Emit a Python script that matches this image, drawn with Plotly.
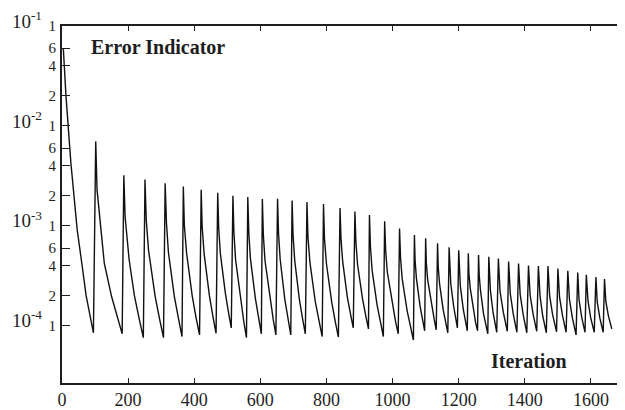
import plotly.graph_objects as go

# ---- data ----
iteration = [
    4, 12, 27, 46, 60, 73, 95,
    102, 106, 113, 128, 150, 167, 182,
    187, 191, 203, 219, 234, 246,
    251, 255, 262, 282, 296, 307,
    312, 316, 322, 340, 353, 363,
    367, 370, 377, 394, 406, 416,
    421, 424, 430, 446, 457, 466,
    471, 474, 479, 494, 504, 512,
    517, 520, 525, 540, 550, 558,
    562, 565, 570, 585, 595, 603,
    606, 609, 614, 629, 639, 647,
    652, 655, 660, 674, 684, 692,
    696, 699, 704, 718, 728, 736,
    741, 744, 750, 766, 778, 787,
    791, 794, 800, 816, 827, 836,
    841, 844, 849, 863, 873, 881,
    886, 889, 894, 909, 919, 927,
    930, 933, 938, 953, 964, 972,
    976, 979, 984, 999, 1009, 1017,
    1021, 1024, 1029, 1044, 1055, 1063,
    1066, 1068, 1072, 1083, 1091, 1097,
    1100, 1102, 1106, 1118, 1126, 1132,
    1136, 1138, 1142, 1153, 1161, 1167,
    1171, 1173, 1176, 1185, 1191, 1196,
    1200, 1202, 1205, 1214, 1221, 1226,
    1229, 1231, 1235, 1244, 1251, 1257,
    1260, 1262, 1266, 1275, 1282, 1288,
    1291, 1293, 1296, 1304, 1310, 1315,
    1320, 1322, 1325, 1335, 1342, 1347,
    1351, 1353, 1356, 1365, 1371, 1376,
    1381, 1383, 1386, 1395, 1401, 1406,
    1411, 1413, 1416, 1425, 1431, 1436,
    1441, 1443, 1446, 1454, 1460, 1465,
    1470, 1472, 1475, 1484, 1491, 1496,
    1500, 1502, 1505, 1514, 1520, 1525,
    1530, 1532, 1535, 1544, 1550, 1555,
    1560, 1562, 1564, 1572, 1578, 1582,
    1586, 1588, 1591, 1599, 1605, 1610,
    1615, 1617, 1619, 1627, 1633, 1637,
    1641, 1643, 1645, 1653, 1659, 1663,
]

error_indicator = [
    6.0e-2, 2.0e-2, 4.2e-3, 9.1e-4, 4.2e-4, 2.0e-4, 8.5e-5,
    7.0e-3, 2.3e-3, 1.34e-3, 4.2e-4, 1.96e-4, 1.2e-4, 8.3e-5,
    3.2e-3, 1.22e-3, 4.6e-4, 2.0e-4, 1.15e-4, 7.6e-5,
    2.9e-3, 1.12e-3, 5.6e-4, 1.95e-4, 1.13e-4, 7.6e-5,
    2.67e-3, 1.06e-3, 5.4e-4, 1.95e-4, 1.15e-4, 7.8e-5,
    2.47e-3, 1.02e-3, 5.3e-4, 1.98e-4, 1.18e-4, 8.1e-5,
    2.29e-3, 9.7e-4, 5.2e-4, 1.99e-4, 1.21e-4, 8.4e-5,
    2.14e-3, 9.5e-4, 5.3e-4, 2.13e-4, 1.34e-4, 9.5e-5,
    2.0e-3, 8.6e-4, 4.6e-4, 1.78e-4, 1.09e-4, 7.6e-5,
    1.94e-3, 8.5e-4, 4.7e-4, 1.87e-4, 1.17e-4, 8.3e-5,
    1.86e-3, 8.2e-4, 4.5e-4, 1.84e-4, 1.15e-4, 8.1e-5,
    1.87e-3, 8.3e-4, 4.6e-4, 1.84e-4, 1.15e-4, 8.1e-5,
    1.79e-3, 8.0e-4, 4.5e-4, 1.84e-4, 1.16e-4, 8.3e-5,
    1.73e-3, 7.7e-4, 4.3e-4, 1.75e-4, 1.1e-4, 7.8e-5,
    1.65e-3, 7.4e-4, 4.15e-4, 1.71e-4, 1.08e-4, 7.7e-5,
    1.51e-3, 7.4e-4, 4.4e-4, 1.95e-4, 1.29e-4, 9.5e-5,
    1.39e-3, 6.9e-4, 4.1e-4, 1.87e-4, 1.25e-4, 9.3e-5,
    1.28e-3, 6.2e-4, 3.6e-4, 1.62e-4, 1.06e-4, 7.8e-5,
    1.11e-3, 5.7e-4, 3.45e-4, 1.63e-4, 1.1e-4, 8.3e-5,
    9.4e-4, 4.8e-4, 2.96e-4, 1.41e-4, 9.6e-5, 7.2e-5,
    8.1e-4, 4.55e-4, 3.0e-4, 1.58e-4, 1.14e-4, 8.9e-5,
    7.5e-4, 4.3e-4, 2.9e-4, 1.57e-4, 1.15e-4, 9.1e-5,
    6.7e-4, 3.9e-4, 2.64e-4, 1.45e-4, 1.06e-4, 8.5e-5,
    6.1e-4, 3.74e-4, 2.63e-4, 1.54e-4, 1.16e-4, 9.5e-5,
    5.7e-4, 3.5e-4, 2.48e-4, 1.45e-4, 1.09e-4, 8.9e-5,
    5.3e-4, 3.3e-4, 2.37e-4, 1.42e-4, 1.08e-4, 8.9e-5,
    5.1e-4, 3.2e-4, 2.24e-4, 1.32e-4, 1.01e-4, 8.3e-5,
    4.9e-4, 3.1e-4, 2.23e-4, 1.35e-4, 1.04e-4, 8.6e-5,
    4.7e-4, 3.03e-4, 2.2e-4, 1.36e-4, 1.05e-4, 8.8e-5,
    4.4e-4, 2.86e-4, 2.1e-4, 1.31e-4, 1.03e-4, 8.6e-5,
    4.2e-4, 2.79e-4, 2.05e-4, 1.29e-4, 1.01e-4, 8.5e-5,
    4.0e-4, 2.72e-4, 2.03e-4, 1.31e-4, 1.04e-4, 8.8e-5,
    3.95e-4, 2.66e-4, 1.98e-4, 1.26e-4, 1.0e-4, 8.5e-5,
    3.95e-4, 2.67e-4, 2.0e-4, 1.29e-4, 1.03e-4, 8.7e-5,
    3.74e-4, 2.55e-4, 1.93e-4, 1.26e-4, 1.01e-4, 8.6e-5,
    3.55e-4, 2.42e-4, 1.83e-4, 1.19e-4, 9.5e-5, 8.1e-5,
    3.4e-4, 2.37e-4, 1.82e-4, 1.22e-4, 1.0e-4, 8.6e-5,
    3.24e-4, 2.29e-4, 1.78e-4, 1.21e-4, 9.9e-5, 8.6e-5,
    3.07e-4, 2.2e-4, 1.73e-4, 1.19e-4, 9.9e-5, 8.6e-5,
    2.93e-4, 2.17e-4, 1.75e-4, 1.25e-4, 1.05e-4, 9.3e-5,
]

x_tick_vals = [0, 200, 400, 600, 800, 1000, 1200, 1400, 1600]
x_tick_text = ["0", "200", "400", "600", "800", "1000", "1200", "1400", "1600"]

y_minor_vals = [1e-4, 2e-4, 4e-4, 6e-4,
                1e-3, 2e-3, 4e-3, 6e-3,
                1e-2, 2e-2, 4e-2, 6e-2, 1e-1]
y_minor_text = ["1", "2", "4", "6",
                "1", "2", "4", "6",
                "1", "2", "4", "6", "1"]
y_decade_vals = [1e-4, 1e-3, 1e-2, 1e-1]
y_decade_text = ["10<sup>-4</sup>", "10<sup>-3</sup>", "10<sup>-2</sup>", "10<sup>-1</sup>"]

title_text = "Error Indicator"
xlabel_text = "Iteration"

# ---- figure ----
# The page body keeps the browser's default 8px margin, so the figure is
# sized 8px smaller than the window and its margins are reduced by 8px.
FONT = "Liberation Serif"
INK = "#1e1e1e"
Y_RANGE = [-4.573, -1.0]
X_RANGE = [0, 1703]

fig = go.Figure()
fig.add_trace(go.Scatter(
    x=iteration, y=error_indicator, mode="lines",
    line=dict(color="#111111", width=1.4),
    showlegend=False, hoverinfo="skip",
))
# invisible anchors so the overlay axes are drawn
for ax in ("y2", "y3"):
    fig.add_trace(go.Scatter(
        x=[iteration[0]], y=[error_indicator[0]], mode="markers",
        marker=dict(opacity=0), yaxis=ax, showlegend=False, hoverinfo="skip",
    ))

fig.update_layout(
    width=617, height=402,
    margin=dict(l=54, r=0, t=18, b=27, pad=0, autoexpand=False),
    paper_bgcolor="white", plot_bgcolor="white",
    showlegend=False,
    font=dict(family=FONT, color=INK, size=18),
    xaxis=dict(
        type="linear", range=X_RANGE, autorange=False, automargin=False,
        tickmode="array", tickvals=x_tick_vals, ticktext=x_tick_text,
        ticks="inside", ticklen=5, tickwidth=1.2, tickcolor=INK,
        showline=True, linecolor=INK, linewidth=1.6, mirror="ticks",
        showgrid=False, zeroline=False,
        tickfont=dict(family=FONT, size=18, color=INK),
    ),
    yaxis=dict(
        type="log", range=Y_RANGE, autorange=False, automargin=False,
        tickmode="array", tickvals=y_minor_vals, ticktext=y_minor_text,
        ticks="inside", ticklen=8, tickwidth=1.2, tickcolor=INK,
        showline=True, linecolor=INK, linewidth=1.8, mirror=False,
        showgrid=False, zeroline=False,
        tickfont=dict(family=FONT, size=15, color=INK),
        ticklabelstandoff=1,
    ),
    yaxis2=dict(
        type="log", range=Y_RANGE, autorange=False, automargin=False,
        overlaying="y", side="right", anchor="x",
        tickmode="array", tickvals=y_minor_vals,
        ticks="inside", ticklen=7, tickwidth=1.2, tickcolor=INK,
        showticklabels=False, showline=False, showgrid=False, zeroline=False,
    ),
    yaxis3=dict(
        type="log", range=Y_RANGE, autorange=False, automargin=False,
        overlaying="y", side="left", anchor="x",
        tickmode="array", tickvals=y_decade_vals, ticktext=y_decade_text,
        ticks="", showline=False, showgrid=False, zeroline=False,
        tickfont=dict(family=FONT, size=19, color=INK),
        ticklabelstandoff=19, ticklabelshift=-5,
        ticklabeloverflow="allow",
    ),
    annotations=[
        dict(text="<b>" + title_text + "</b>", xref="paper", yref="paper",
             x=0.048, y=0.942, xanchor="left", yanchor="middle", showarrow=False,
             font=dict(family=FONT, size=20, color=INK)),
        dict(text="<b>" + xlabel_text + "</b>", xref="paper", yref="paper",
             x=0.758, y=0.062, xanchor="left", yanchor="middle", showarrow=False,
             font=dict(family=FONT, size=20, color=INK)),
    ],
)

fig.write_html("out.html", config={"displayModeBar": False})
